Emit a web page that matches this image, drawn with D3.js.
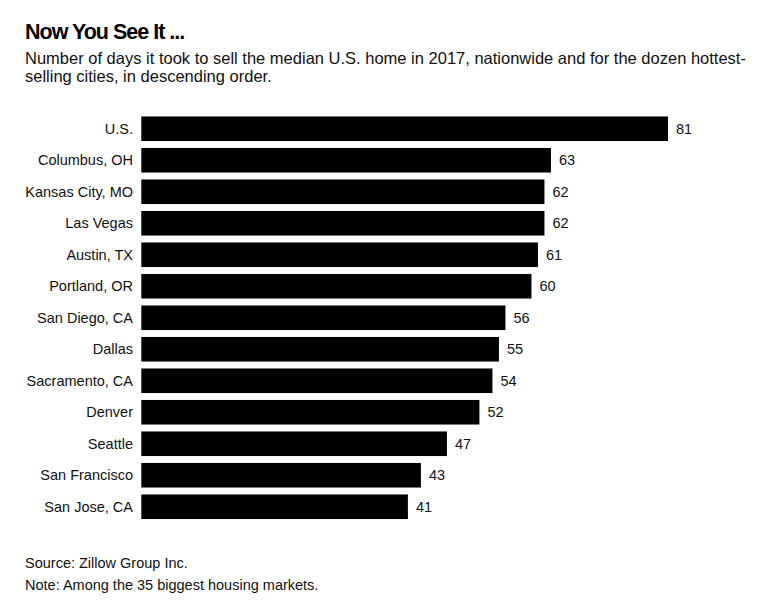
<!DOCTYPE html>
<html>
<head>
<meta charset="utf-8">
<script src="https://cdn.jsdelivr.net/npm/d3@7"></script>
<style>
  body { margin: 0; background: #fff; }
  svg { font-family: "Liberation Sans", Arial, sans-serif; }
</style>
</head>
<body>
<svg width="761" height="608"></svg>
<script>
// DATA
const cities = ["U.S.", "Columbus, OH", "Kansas City, MO", "Las Vegas", "Austin, TX",
  "Portland, OR", "San Diego, CA", "Dallas", "Sacramento, CA", "Denver",
  "Seattle", "San Francisco", "San Jose, CA"];
const days = [81, 63, 62, 62, 61, 60, 56, 55, 54, 52, 47, 43, 41];

const svg = d3.select("svg");

// CONSTANTS
const margin = { top: 113, left: 141.3 };
const barStep = 31.5;

// SCALES
const x = d3.scaleLinear().domain([0, 81]).range([margin.left, 668]);
const y = d3.scaleBand()
  .domain(cities)
  .range([margin.top, margin.top + barStep * cities.length])
  .paddingInner(0.22)
  .paddingOuter(0.11);

// titles
svg.append("text")
  .attr("x", 25).attr("y", 39)
  .attr("font-size", 21.5).attr("font-weight", "bold")
  .attr("letter-spacing", -1)
  .text("Now You See It ...");

const sub = svg.append("text")
  .attr("font-size", 16.5).attr("fill", "#111");
sub.append("tspan").attr("x", 25).attr("y", 64)
  .text("Number of days it took to sell the median U.S. home in 2017, nationwide and for the dozen hottest-");
sub.append("tspan").attr("x", 25).attr("y", 82)
  .text("selling cities, in descending order.");

const rows = svg.selectAll("g.row")
  .data(cities.map((c, i) => ({ city: c, value: days[i] })))
  .enter()
  .append("g")
  .attr("class", "row");

rows.append("rect")
  .attr("x", x(0))
  .attr("y", d => y(d.city))
  .attr("width", d => x(d.value) - x(0))
  .attr("height", y.bandwidth())
  .attr("fill", "#000");

rows.append("text")
  .attr("x", 133)
  .attr("y", d => y(d.city) + y.bandwidth() / 2)
  .attr("dy", "0.33em")
  .attr("text-anchor", "end")
  .attr("font-size", 14.5)
  .attr("fill", "#111")
  .text(d => d.city);

rows.append("text")
  .attr("x", d => x(d.value) + 8)
  .attr("y", d => y(d.city) + y.bandwidth() / 2)
  .attr("dy", "0.33em")
  .attr("font-size", 14.5)
  .attr("fill", "#111")
  .text(d => d.value);

// footer
svg.append("text")
  .attr("x", 25).attr("y", 568)
  .attr("font-size", 14.5).attr("fill", "#111")
  .text("Source: Zillow Group Inc.");
svg.append("text")
  .attr("x", 25).attr("y", 590)
  .attr("font-size", 14.5).attr("fill", "#111")
  .text("Note: Among the 35 biggest housing markets.");
</script>
</body>
</html>
